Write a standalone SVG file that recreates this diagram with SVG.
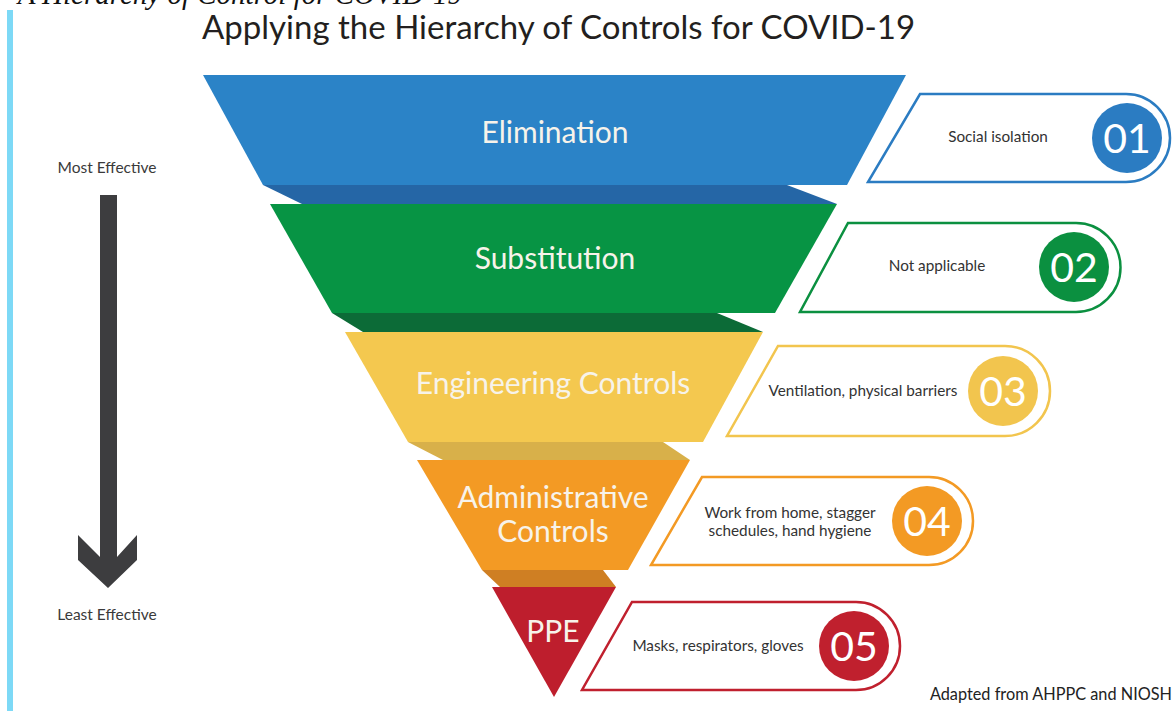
<svg xmlns="http://www.w3.org/2000/svg" width="1172" height="711" viewBox="0 0 1172 711">
<style>
  .band { font-family: Lato, "Open Sans", "Liberation Sans", sans-serif; font-size: 30px; fill: #f7f3ea; text-anchor: middle; }
  .lbl { font-family: Lato, "Open Sans", "Liberation Sans", sans-serif; font-size: 15.3px; fill: #333333; text-anchor: middle; }
  .num { font-family: Lato, "Open Sans", "Liberation Sans", sans-serif; font-size: 41px; fill: #ffffff; text-anchor: middle; }
  .side { font-family: Lato, "Open Sans", "Liberation Sans", sans-serif; font-size: 15.5px; fill: #3a3a3a; text-anchor: middle; }
  .box { fill: #ffffff; stroke-width: 2.5; }
</style>
<rect x="0" y="0" width="1172" height="711" fill="#ffffff"/>
<rect x="7" y="10" width="6" height="701" fill="#7dd9f6"/>
<text x="462" y="4" font-family="Liberation Serif, serif" font-style="italic" font-size="29" fill="#111111" text-anchor="end">A Hierarchy of Control for COVID-19</text>
<text x="202" y="39" font-family="Lato, 'Open Sans', 'Liberation Sans', sans-serif" font-size="33" fill="#231f20">Applying the Hierarchy of Controls for COVID-19</text>

<g id="effectiveness">
  <text class="side" x="107" y="173">Most Effective</text>
  <polygon points="100,195 117,195 117,557 137,535 137,560 108,588 78,560 78,535 100,557" fill="#3d3d3f"/>
  <text class="side" x="107" y="620">Least Effective</text>
</g>

<g id="elimination">
  <polygon points="263,185 787,185 837,204 302,204" fill="#2566a6"/>
  <polygon points="203,75 906,75 847,185 263,185" fill="#2b83c7"/>
  <text class="band" x="555" y="143">Elimination</text>
</g>
<g id="substitution">
  <polygon points="332,313 717,313 763,332 363,332" fill="#0c6b37"/>
  <polygon points="270,204 837,204 775,313 332,313" fill="#079444"/>
  <text class="band" x="555" y="269">Substitution</text>
</g>
<g id="engineering">
  <polygon points="408,442 663,442 690,460 443,460" fill="#d8b04a"/>
  <polygon points="345,332 763,332 703,442 408,442" fill="#f4c84f"/>
  <text class="band" x="553" y="394">Engineering Controls</text>
</g>
<g id="administrative">
  <polygon points="482,570 603,570 616,587 500,587" fill="#cf7f23"/>
  <polygon points="417,460 690,460 628,570 482,570" fill="#f39a24"/>
  <text class="band" x="553" y="508">Administrative</text>
  <text class="band" x="553" y="542">Controls</text>
</g>
<g id="ppe">
  <polygon points="492,587 616,587 554,697" fill="#be1e2d"/>
  <text class="band" x="553" y="642">PPE</text>
</g>

<g id="label01">
  <path class="box" stroke="#2b7cc2" d="M920,94 L1126,94 A44,44 0 0 1 1126,182 L868,182 Z"/>
  <text class="lbl" x="998" y="142">Social isolation</text>
  <circle cx="1127" cy="138" r="35" fill="#2b7cc2"/>
  <text class="num" x="1127" y="153">01</text>
</g>
<g id="label02">
  <path class="box" stroke="#0b9040" d="M848,223 L1076,223 A44.5,44.5 0 0 1 1076,312 L800,312 Z"/>
  <text class="lbl" x="937" y="271">Not applicable</text>
  <circle cx="1074" cy="267" r="35" fill="#0b9040"/>
  <text class="num" x="1074" y="282">02</text>
</g>
<g id="label03">
  <path class="box" stroke="#f2c54e" d="M778,346 L1005,346 A45,45 0 0 1 1005,436 L727,436 Z"/>
  <text class="lbl" x="863" y="396">Ventilation, physical barriers</text>
  <circle cx="1003" cy="391" r="35" fill="#f2c54e"/>
  <text class="num" x="1003" y="406">03</text>
</g>
<g id="label04">
  <path class="box" stroke="#f39a24" d="M702,477 L929,477 A44,44 0 0 1 929,565 L651,565 Z"/>
  <text class="lbl" x="790" y="518">Work from home, stagger</text>
  <text class="lbl" x="790" y="536">schedules, hand hygiene</text>
  <circle cx="927" cy="521" r="35" fill="#f39a24"/>
  <text class="num" x="927" y="536">04</text>
</g>
<g id="label05">
  <path class="box" stroke="#c0202e" d="M632,602 L856,602 A44,44 0 0 1 856,690 L582,690 Z"/>
  <text class="lbl" x="718" y="651">Masks, respirators, gloves</text>
  <circle cx="854" cy="646" r="35" fill="#c0202e"/>
  <text class="num" x="854" y="661">05</text>
</g>

<g id="connectors"></g>

<text x="1172" y="700" font-family="Lato, 'Open Sans', 'Liberation Sans', sans-serif" font-size="16.3" fill="#222222" text-anchor="end">Adapted from AHPPC and NIOSH</text>
</svg>
